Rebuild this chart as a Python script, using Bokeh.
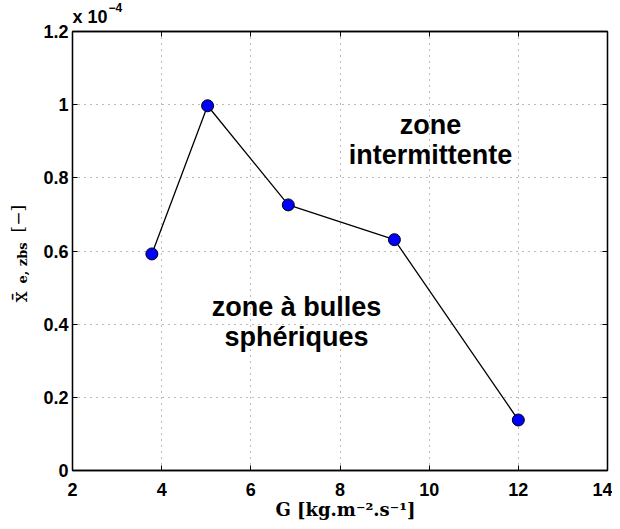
import math
from bokeh.plotting import figure
from bokeh.models import (Range1d, LinearAxis, FixedTicker, Label,
                          BoxAnnotation, Grid)
from bokeh.embed import file_html
from bokeh.resources import INLINE

# ---- data ----
G = [3.78, 5.03, 6.84, 9.22, 12.0]
x_e_zbs_e4 = [0.592, 0.997, 0.726, 0.631, 0.138]   # in units of 1e-4
x_ticks = [2, 4, 6, 8, 10, 12, 14]
y_ticks = [0, 0.2, 0.4, 0.6, 0.8, 1.0, 1.2]
y_tick_labels = ["0", "0.2", "0.4", "0.6", "0.8", "1", "1.2"]
zone1_lines = ["zone", "intermittente"]
zone2_lines = ["zone à bulles", "sphériques"]
x_label = "G [kg.m⁻².s⁻¹]"
exp_base, exp_power = "x 10", "−4"
ylab_var, ylab_sub, ylab_unit = "x̄", "e, zbs", "[−]"

# ---- layout (pixels) ----
W, H = 612, 521
PL, PR, PT, PB = 72, 607, 31, 470          # axes box in page pixels
XMIN, XMAX, YMIN, YMAX = x_ticks[0], x_ticks[-1], y_ticks[0], y_ticks[-1]
PPX = (PR - PL) / (XMAX - XMIN)
PPY = (PB - PT) / (YMAX - YMIN)


def to_data(fx, fy):
    return XMIN + (fx - PL) / PPX, YMIN + (PB - fy) / PPY


p = figure(width=W, height=H, output_backend="svg", toolbar_location=None,
           x_range=Range1d(XMIN - PL / PPX, XMAX + (W - PR) / PPX),
           y_range=Range1d(YMIN - (H - PB) / PPY, YMAX + PT / PPY),
           min_border=0, min_border_left=0, min_border_right=0,
           min_border_top=0, min_border_bottom=0)
p.outline_line_color = None
p.background_fill_color = "white"
p.border_fill_color = "white"

TICK_FONT = "Liberation Sans"


def style_axis(ax, labels=True):
    ax.axis_line_color = "black"
    ax.axis_line_width = 1.3
    ax.major_tick_in = 5
    ax.major_tick_out = 0
    ax.minor_tick_line_color = None
    ax.major_tick_line_color = "black"
    ax.major_tick_line_width = 1
    ax.major_label_text_font = TICK_FONT
    ax.major_label_text_font_style = "bold"
    ax.major_label_text_font_size = "18px"
    ax.major_label_text_color = "black"
    if not labels:
        ax.major_label_text_font_size = "0px"
        ax.major_label_text_alpha = 0
        ax.major_label_standoff = 0


xa = p.xaxis[0]
xa.ticker = FixedTicker(ticks=x_ticks)
xa.fixed_location = YMIN
xa.bounds = (XMIN, XMAX)
style_axis(xa)
xa.major_label_standoff = 12

ya = p.yaxis[0]
ya.ticker = FixedTicker(ticks=y_ticks)
ya.fixed_location = XMIN
ya.bounds = (YMIN, YMAX)
ya.major_label_overrides = {t: l for t, l in zip(y_ticks, y_tick_labels)}
style_axis(ya)
ya.major_label_standoff = 4

top = LinearAxis(ticker=FixedTicker(ticks=x_ticks), fixed_location=YMAX,
                 bounds=(XMIN, XMAX))
style_axis(top, labels=False)
p.add_layout(top, "above")
right = LinearAxis(ticker=FixedTicker(ticks=y_ticks), fixed_location=XMAX,
                   bounds=(YMIN, YMAX))
style_axis(right, labels=False)
p.add_layout(right, "right")

# grid limited to the axes box
p.xgrid[0].visible = False
p.ygrid[0].visible = False
if "cross_bounds" in Grid.properties():
    gx = Grid(dimension=0, ticker=FixedTicker(ticks=x_ticks),
              bounds=(XMIN, XMAX), cross_bounds=(YMIN, YMAX))
    gy = Grid(dimension=1, ticker=FixedTicker(ticks=y_ticks),
              bounds=(YMIN, YMAX), cross_bounds=(XMIN, XMAX))
    for g in (gx, gy):
        g.grid_line_color = "#777777"
        g.grid_line_dash = "1 5"
        g.grid_line_width = 1
        p.add_layout(g)
else:
    p.segment(x0=x_ticks, y0=[YMIN] * len(x_ticks), x1=x_ticks,
              y1=[YMAX] * len(x_ticks), line_color="#777777",
              line_dash="1 5", line_width=1)
    p.segment(x0=[XMIN] * len(y_ticks), y0=y_ticks, x1=[XMAX] * len(y_ticks),
              y1=y_ticks, line_color="#777777", line_dash="1 5", line_width=1)

p.add_layout(BoxAnnotation(left=XMIN, right=XMAX, bottom=YMIN, top=YMAX,
                           fill_alpha=0, line_color="black", line_width=1.3,
                           line_alpha=1))

p.line(G, x_e_zbs_e4, line_color="black", line_width=1.3)
p.scatter(G, x_e_zbs_e4, size=12, fill_color="#0000ff", line_color="black",
          line_width=1)


def add_label(text, fx, fy, size, font, style="normal", align="left",
              angle=0.0):
    x, y = to_data(fx, fy)
    p.add_layout(Label(x=x, y=y, text=text, text_align=align,
                       text_baseline="alphabetic", text_font=font,
                       text_font_style=style, text_font_size=size,
                       text_color="black", angle=angle))


ZF = "Liberation Sans"
for txt, fy in zip(zone1_lines, [124, 154]):
    add_label(txt, 430, fy, "27px", ZF, "bold", "center")
for txt, fy in zip(zone2_lines, [306, 336]):
    add_label(txt, 296, fy, "27px", ZF, "bold", "center")

# exponent label
add_label(exp_base, 72, 16, "18px", TICK_FONT, "bold")
add_label(exp_power, 108, 7, "12px", TICK_FONT, "bold")

# x axis label
add_label(x_label, 345, 509, "18px", "DejaVu Serif", "bold", "center")

# y axis label, rotated
R = math.pi / 2
add_label(ylab_var, 19, 302, "20px", "DejaVu Serif", "normal", "left", R)
add_label(ylab_sub, 22, 283, "13px", "DejaVu Serif", "bold", "left", R)
add_label(ylab_unit, 17, 232, "17px", "DejaVu Serif", "normal", "left", R)

open("out.html", "w").write(file_html(p, INLINE))
